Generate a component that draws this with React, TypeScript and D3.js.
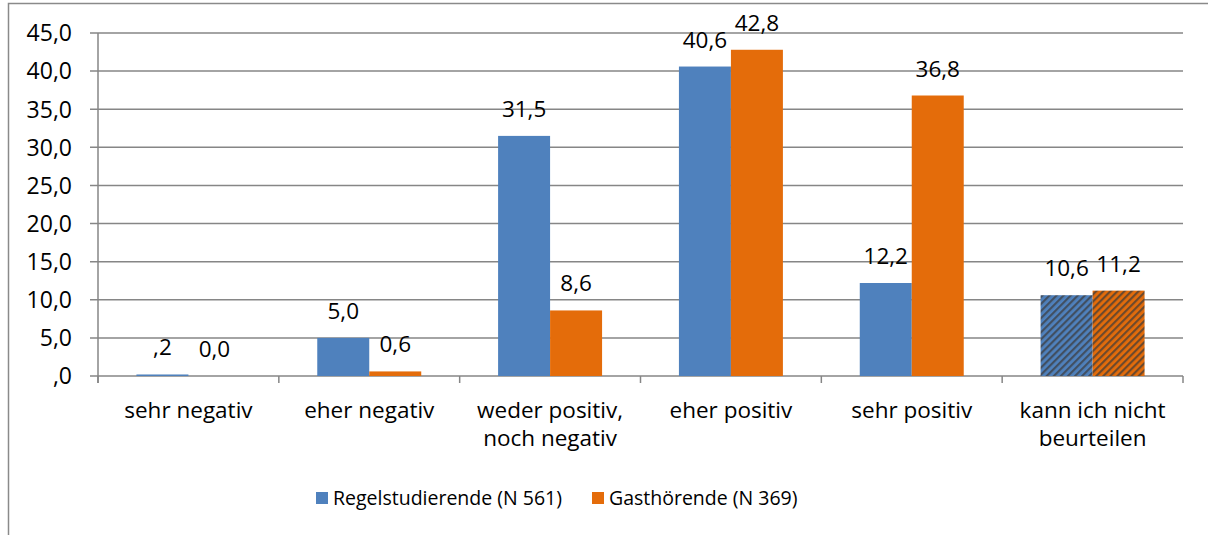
import React, { useEffect } from 'react'
import * as d3 from 'd3'

// categories (multi-line labels split with \n)
const categories = [
  'sehr negativ',
  'eher negativ',
  'weder positiv,\nnoch negativ',
  'eher positiv',
  'sehr positiv',
  'kann ich nicht\nbeurteilen',
]
const seriesNames = ['Regelstudierende (N 561)', 'Gasthörende (N 369)']
const regelValues = [0.2, 5.0, 31.5, 40.6, 12.2, 10.6]
const gastValues = [0.0, 0.6, 8.6, 42.8, 36.8, 11.2]
const yTicks = [0, 5, 10, 15, 20, 25, 30, 35, 40, 45]
const hatchedCategory = 'kann ich nicht\nbeurteilen'

const colors = ['#4F81BD', '#E46C0A']
const FONT = '"Open Sans", "DejaVu Sans", sans-serif'

// Excel-style German number formats
const fmtNoLead = (v: number) => {
  const s = d3.format('.1f')(v).replace('.', ',')
  return s.startsWith('0,') ? s.slice(1) : s
}
const fmtLead = (v: number) => d3.format('.1f')(v).replace('.', ',')
const labelFormats = [fmtNoLead, fmtLead]

const width = 1208
const height = 535
const plot = { left: 98, right: 1183, top: 33, bottom: 376 }

export default function App() {
  useEffect(() => {
    document.body.style.margin = '0'
  }, [])

  const x = d3.scaleBand<string>().domain(categories).range([plot.left, plot.right])
  const bw = x.bandwidth()
  const x1 = d3
    .scaleBand<number>()
    .domain([0, 1])
    .range([bw * 0.2125, bw * 0.7875])
  const y = d3.scaleLinear().domain([0, 45]).range([plot.bottom, plot.top])
  const series = [regelValues, gastValues]

  return (
    <svg width={width} height={height} style={{ display: 'block', fontFamily: FONT }}>
      <defs>
        {colors.map((c, i) => (
          <pattern
            key={i}
            id={`hatch${i}`}
            width={5}
            height={5}
            patternUnits="userSpaceOnUse"
            patternTransform="rotate(45)"
          >
            <rect width={5} height={5} fill={c} />
            <rect width={2.2} height={5} fill="#3b3b3b" opacity={0.7} />
          </pattern>
        ))}
      </defs>
      <rect x={0} y={0} width={width} height={height} fill="#fff" />
      {/* chart frame */}
      <path d={`M8.5,${height} V3.5 H${width}`} fill="none" stroke="#8a8a8a" strokeWidth={1.5} />

      {/* gridlines + y labels */}
      {yTicks.map((t) => (
        <g key={t}>
          <line
            x1={plot.left - 8}
            x2={plot.right}
            y1={y(t)}
            y2={y(t)}
            stroke="#868686"
            strokeWidth={1.5}
          />
          <text x={72} y={y(t)} dy="0.36em" textAnchor="end" fontSize={23} fill="#000">
            {fmtNoLead(t)}
          </text>
        </g>
      ))}
      <line x1={plot.left} x2={plot.left} y1={plot.top} y2={plot.bottom + 7} stroke="#868686" strokeWidth={1.5} />

      {/* x ticks */}
      {categories.map((c) => (
        <line
          key={c}
          x1={x(c)!}
          x2={x(c)!}
          y1={plot.bottom}
          y2={plot.bottom + 7}
          stroke="#868686"
          strokeWidth={1.5}
        />
      ))}
      <line x1={plot.right} x2={plot.right} y1={plot.bottom} y2={plot.bottom + 7} stroke="#868686" strokeWidth={1.5} />

      {/* bars */}
      {categories.map((c, ci) =>
        series.map((vals, si) => {
          const v = vals[ci]
          const bx = x(c)! + x1(si)!
          const top = y(v)
          return (
            <g key={`${c}-${si}`}>
              <rect
                x={bx}
                y={top}
                width={x1.bandwidth()}
                height={plot.bottom - top}
                fill={c === hatchedCategory ? `url(#hatch${si})` : colors[si]}
              />
              <text
                x={bx + x1.bandwidth() / 2}
                y={top - 19}
                textAnchor="middle"
                fontSize={22.5}
                fill="#000"
              >
                {labelFormats[si](v)}
              </text>
            </g>
          )
        })
      )}

      {/* category labels, one text per line */}
      {categories.map((c) =>
        c.split('\n').map((line, li) => (
          <text
            key={`${c}-${li}`}
            x={x(c)! + bw / 2}
            y={418 + li * 28}
            textAnchor="middle"
            fontSize={22.5}
            fill="#000"
          >
            {line}
          </text>
        ))
      )}

      {/* legend */}
      {seriesNames.map((name, i) => {
        const lx = [316, 592][i]
        return (
          <g key={name}>
            <rect x={lx} y={492} width={12} height={12} fill={colors[i]} />
            <text x={lx + 17} y={498} dy="0.36em" fontSize={19.5} fill="#000">
              {name}
            </text>
          </g>
        )
      })}
    </svg>
  )
}
